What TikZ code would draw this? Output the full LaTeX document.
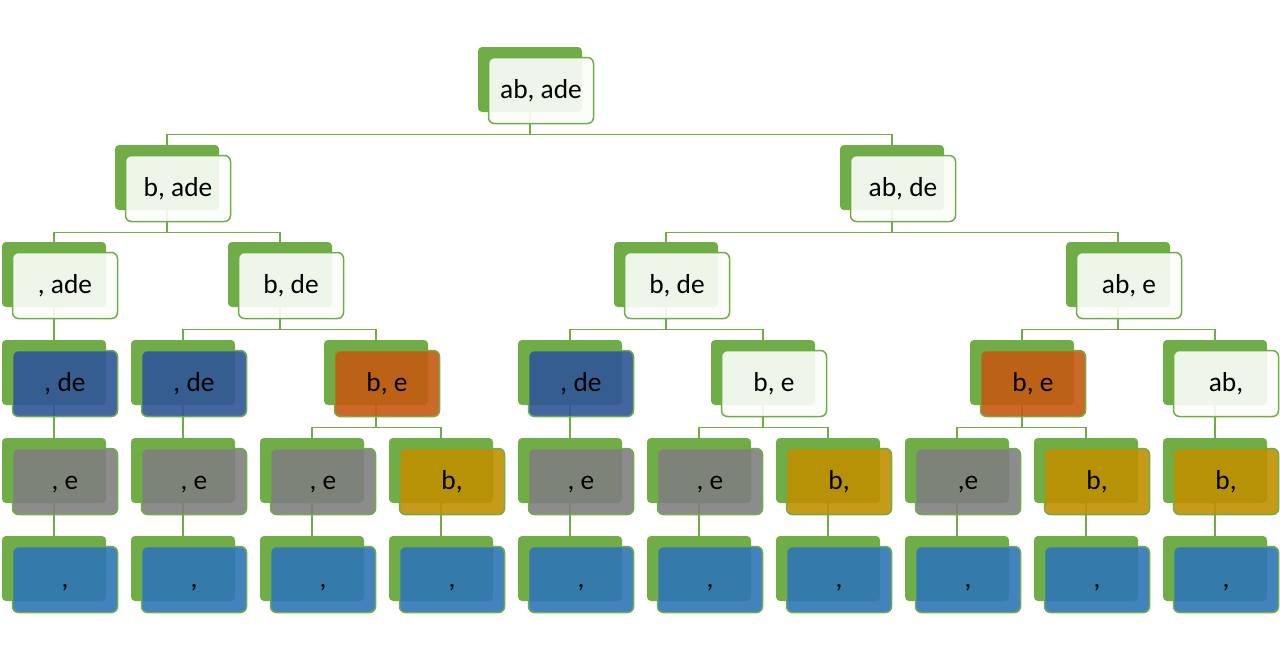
\documentclass[tikz,border=0pt]{standalone}
\usepackage{fontspec}
\setmainfont{Carlito}
\usetikzlibrary{backgrounds}
\definecolor{leaf}{HTML}{70AD47}
\definecolor{lite}{HTML}{FCFDFB}
\definecolor{navy}{HTML}{2F5597}
\definecolor{rust}{HTML}{C55A11}
\definecolor{stone}{HTML}{7F7F7F}
\definecolor{ochre}{HTML}{BF9000}
\definecolor{sky}{HTML}{2E75B6}
\begin{document}
\begin{tikzpicture}[x=0.5pt,y=-0.5pt]

    \tikzset{backblock/.style={%
      fill=leaf,%
      rectangle,%
      rounded corners=2pt,%
      inner sep=0pt,%
      minimum width=52pt,%
      minimum height=32.5pt}%
    };

    \tikzset{block/.style={backblock, draw=leaf, line width=0.75pt, fill=#1,
      fill opacity=0.9, text opacity=1, rounded corners=3pt,
      minimum width=52.5pt, minimum height=33pt,
      text height=9.5pt, text depth=1.5pt,
      font=\fontsize{13.7}{16}\selectfont}};

    \tikzset{link/.style={draw=leaf, line width=0.75pt}};

    \useasboundingbox (0,0) rectangle (1280,660);

    %%%%%%%%%%%%%%%
    %   blocks    %
    %%%%%%%%%%%%%%%
    \foreach \n/\x/\y/\col/\txt in {%
      r/530/79.5/lite/{ab, ade},
      a/167/177.5/lite/{b, ade}, b/892/177.5/lite/{ab, de},
      aa/54/274.5/lite/{, ade}, ab/280/274.5/lite/{b, de},
      ba/666/274.5/lite/{b, de}, bb/1118/274.5/lite/{ab, e},
      aaa/54/372.5/navy/{, de}, aba/183/372.5/navy/{, de},
      abb/376/372.5/rust/{b, e}, baa/570/372.5/navy/{, de},
      bab/763/372.5/lite/{b, e}, bba/1022/372.5/rust/{b, e},
      bbb/1215/372.5/lite/{ab,},
      aaaa/54/470.5/stone/{, e}, abaa/183/470.5/stone/{, e},
      abba/312/470.5/stone/{, e}, abbb/441/470.5/ochre/{b,},
      baaa/570/470.5/stone/{, e}, baba/699/470.5/stone/{, e},
      babb/828/470.5/ochre/{b,}, bbaa/957/470.5/stone/{,e},
      bbab/1086/470.5/ochre/{b,}, bbba/1215/470.5/ochre/{b,},
      aaaaa/54/568.5/sky/{,}, abaaa/183/568.5/sky/{,},
      abbaa/312/568.5/sky/{,}, abbba/441/568.5/sky/{,},
      baaaa/570/568.5/sky/{,}, babaa/699/568.5/sky/{,},
      babba/828/568.5/sky/{,}, bbaaa/957/568.5/sky/{,},
      bbaba/1086/568.5/sky/{,}, bbbaa/1215/568.5/sky/{,}}{
      \node [backblock] (\n) at (\x,\y) {};
      \node [block=\col] (\n-f) at (\x+11,\y+11) {\txt};
    }

    %%%%%%%%%%%%%%%
    %    links    %
    %%%%%%%%%%%%%%%
    \begin{scope}[on background layer]
      \foreach \p/\q in {r/a, r/b, a/aa, a/ab, b/ba, b/bb,
        aa/aaa, ab/aba, ab/abb, ba/baa, ba/bab, bb/bba, bb/bbb,
        aaa/aaaa, aba/abaa, abb/abba, abb/abbb, baa/baaa, bab/baba,
        bab/babb, bba/bbaa, bba/bbab, bbb/bbba,
        aaaa/aaaaa, abaa/abaaa, abba/abbaa, abbb/abbba, baaa/baaaa,
        baba/babaa, babb/babba, bbaa/bbaaa, bbab/bbaba, bbba/bbbaa}
        \draw [link] (\p.south) -- ++(0,22) -| (\q.north);
    \end{scope}

  \end{tikzpicture}
\end{document}
